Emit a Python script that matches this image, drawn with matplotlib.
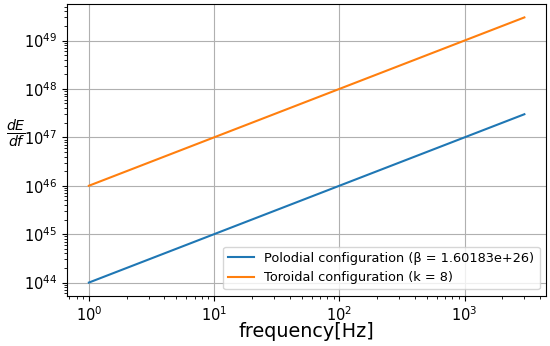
import matplotlib.pyplot as plt

# endpoints of the two power-law curves (straight on log-log axes)
frequency = [1, 3000]
poloidal = [1e44, 3e47]
toroidal = [1e46, 3e49]

poloidal_label = 'Polodial configuration (β = 1.60183e+26)'
toroidal_label = 'Toroidal configuration (k = 8)'

fig, ax = plt.subplots(figsize=(5.5, 3.46), dpi=100)
fig.subplots_adjust(left=0.122, right=0.993, top=0.988, bottom=0.145)

ax.loglog(frequency, poloidal, color='#1f77b4', lw=1.5, label=poloidal_label)
ax.loglog(frequency, toroidal, color='#ff7f0e', lw=1.5, label=toroidal_label)

ax.grid(True, which='major')
ax.tick_params(labelsize=10.5)
ax.set_xlabel('frequency[Hz]', fontsize=13.8)
ax.xaxis.set_label_coords(0.5, -0.09)
ax.set_ylabel(r'$\frac{dE}{df}$', rotation=0, fontsize=14.5)
ax.yaxis.set_label_coords(-0.107, 0.50)
ax.legend(loc='lower right', fontsize=9.3)

fig.savefig('out.png')
